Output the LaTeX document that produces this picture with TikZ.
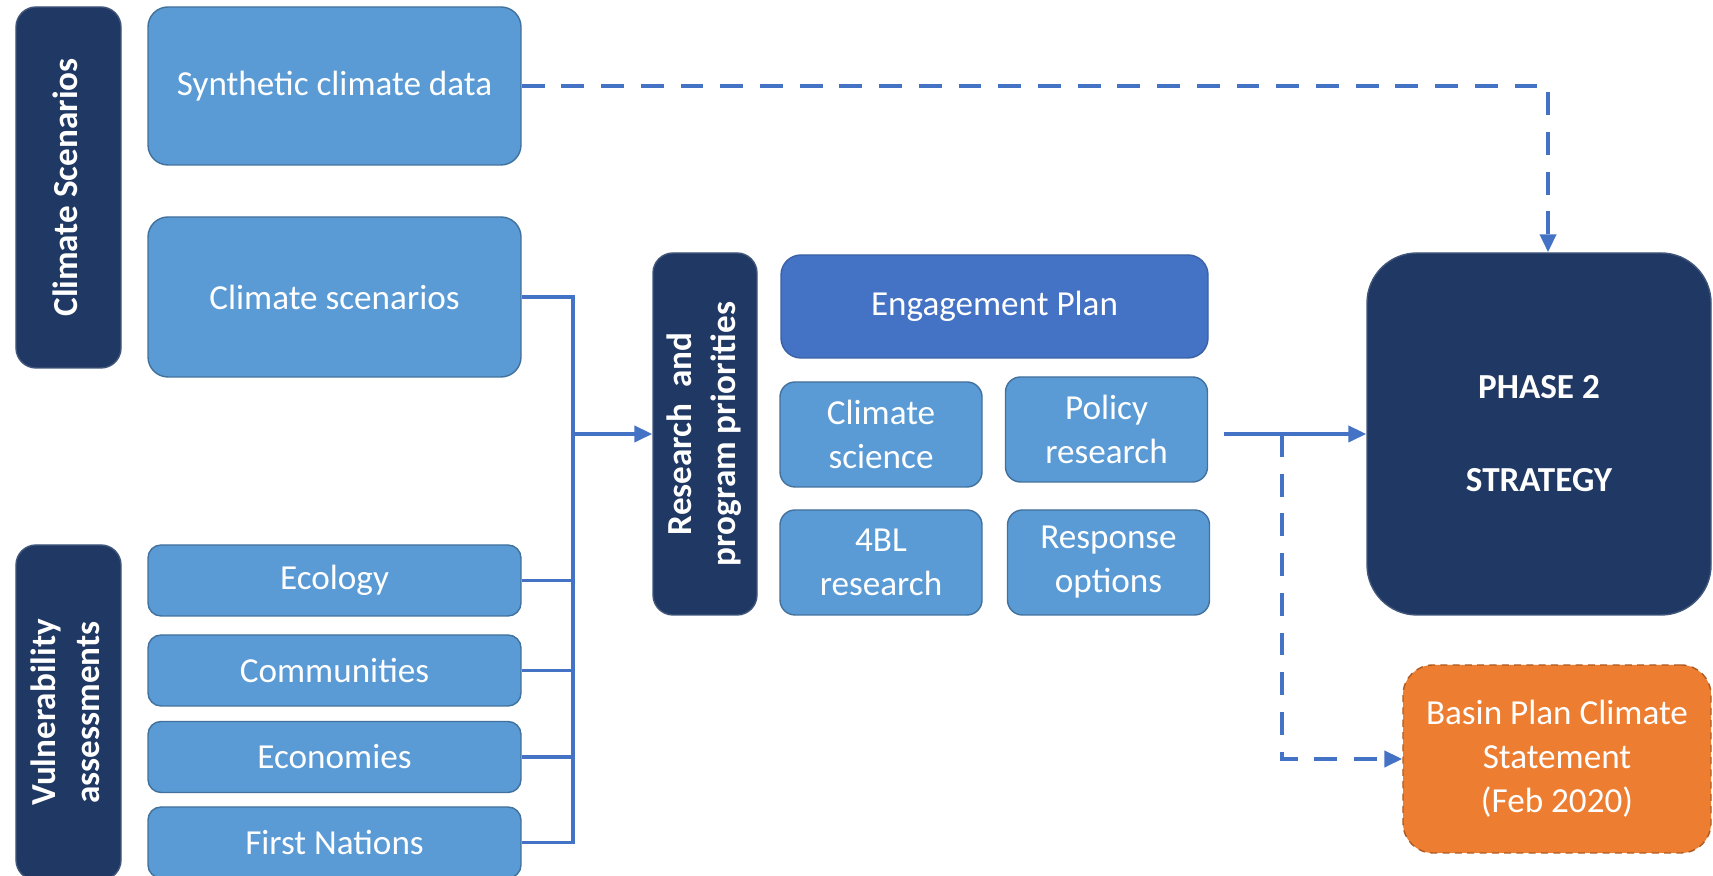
\documentclass[tikz,border=0pt]{standalone}
\usepackage{fontspec}
\setmainfont{Carlito}
\usetikzlibrary{arrows.meta}
\definecolor{navy}{HTML}{203864}
\definecolor{skyblue}{HTML}{5B9BD5}
\definecolor{engblue}{HTML}{4472C4}
\definecolor{edgeblue}{HTML}{41719C}
\definecolor{basinorange}{HTML}{ED7D31}
\definecolor{basinedge}{HTML}{AE5A21}
\newcommand{\vtext}[1]{\rotatebox{90}{\begin{tabular}{@{}c@{}}#1\end{tabular}}}

\begin{document}
\begin{tikzpicture}[
    font=\fontsize{10}{12.5}\selectfont,
    >={Triangle[length=1.8mm,width=1.6mm]},
    box/.style={text=white, align=center, inner sep=0pt, rounded corners=2mm, line width=0.4pt},
    darkbox/.style={box, fill=navy, draw=navy!85!white, font=\fontsize{10}{12.5}\selectfont\bfseries},
    lightbox/.style={box, fill=skyblue, draw=edgeblue},
    vabox/.style={lightbox, minimum width=3.73cm, minimum height=0.71cm, rounded corners=1.3mm},
    smallbox/.style={lightbox, minimum width=2.02cm, minimum height=1.05cm, rounded corners=1.5mm},
    basinbox/.style={box, fill=basinorange, draw=basinedge, dash pattern=on 2pt off 1.5pt,
                     rounded corners=3mm, minimum width=3.08cm, minimum height=1.88cm},
    link/.style={draw=engblue, line width=1.1pt},
    dashlink/.style={link, dash pattern=on 6.5pt off 4.8pt}
  ]
     \useasboundingbox (0,0) rectangle (17.13,8.76);

     % left column
     \node[darkbox, minimum width=1.05cm, minimum height=3.61cm] (clim)  at ( 0.685, 6.885) {\vtext{Climate Scenarios}};
     \node[lightbox, minimum width=3.73cm, minimum height=1.58cm] (synth) at ( 3.345, 7.900) {Synthetic climate data};
     \node[lightbox, minimum width=3.73cm, minimum height=1.60cm] (scen)  at ( 3.345, 5.790) {Climate scenarios};
     \node[darkbox, minimum width=1.05cm, minimum height=3.35cm] (vuln)  at ( 0.685, 1.635) {\vtext{Vulnerability\\assessments}};
     \node[vabox] (ecol)  at ( 3.345, 2.955) {Ecology};
     \node[vabox] (comm)  at ( 3.345, 2.055) {Communities};
     \node[vabox] (econ)  at ( 3.345, 1.190) {Economies};
     \node[vabox] (first) at ( 3.345, 0.335) {First Nations};

     % middle block
     \node[darkbox, minimum width=1.04cm, minimum height=3.62cm] (prior) at ( 7.050, 4.420) {\vtext{Research\ \ and\\program priorities}};
     \node[lightbox, fill=engblue, draw=engblue!85!black, minimum width=4.27cm, minimum height=1.03cm] (engage) at ( 9.945, 5.695) {Engagement Plan};
     \node[smallbox] (csci)    at ( 8.810, 4.415) {Climate\\science};
     \node[smallbox] (policy)  at (11.065, 4.465) {Policy\\research};
     \node[smallbox] (fourbl)  at ( 8.810, 3.135) {4BL\\research};
     \node[smallbox] (options) at (11.085, 3.135) {Response\\options};

     % right column
     \node[darkbox, rounded corners=5mm, minimum width=3.44cm, minimum height=3.62cm] (phase) at (15.390, 4.420) {PHASE 2\\[14pt]STRATEGY};
     \node[basinbox] (basin) at (15.570, 1.170) {Basin Plan Climate\\Statement\\(Feb 2020)};

     % connectors
     \coordinate (bus)   at ( 5.73, 0);
     \coordinate (bend)  at (15.48, 0);
     \coordinate (pout)  at (12.24, 4.42);
     \coordinate (split) at (12.82, 4.42);
     \draw[link] (scen.east) -- (scen.east -| bus) -- (first.east -| bus) -- (first.east);
     \draw[link] (ecol.east) -- (ecol.east -| bus);
     \draw[link] (comm.east) -- (comm.east -| bus);
     \draw[link] (econ.east) -- (econ.east -| bus);
     \draw[link,->] (prior.west -| bus) -- (prior.west);
     \draw[dashlink,->] (synth.east) -- (synth.east -| bend) -- (bend |- phase.north);
     \draw[link,->] (pout) -- (phase.west);
     \draw[dashlink,->] (split) |- (basin.west);
\end{tikzpicture}
\end{document}
